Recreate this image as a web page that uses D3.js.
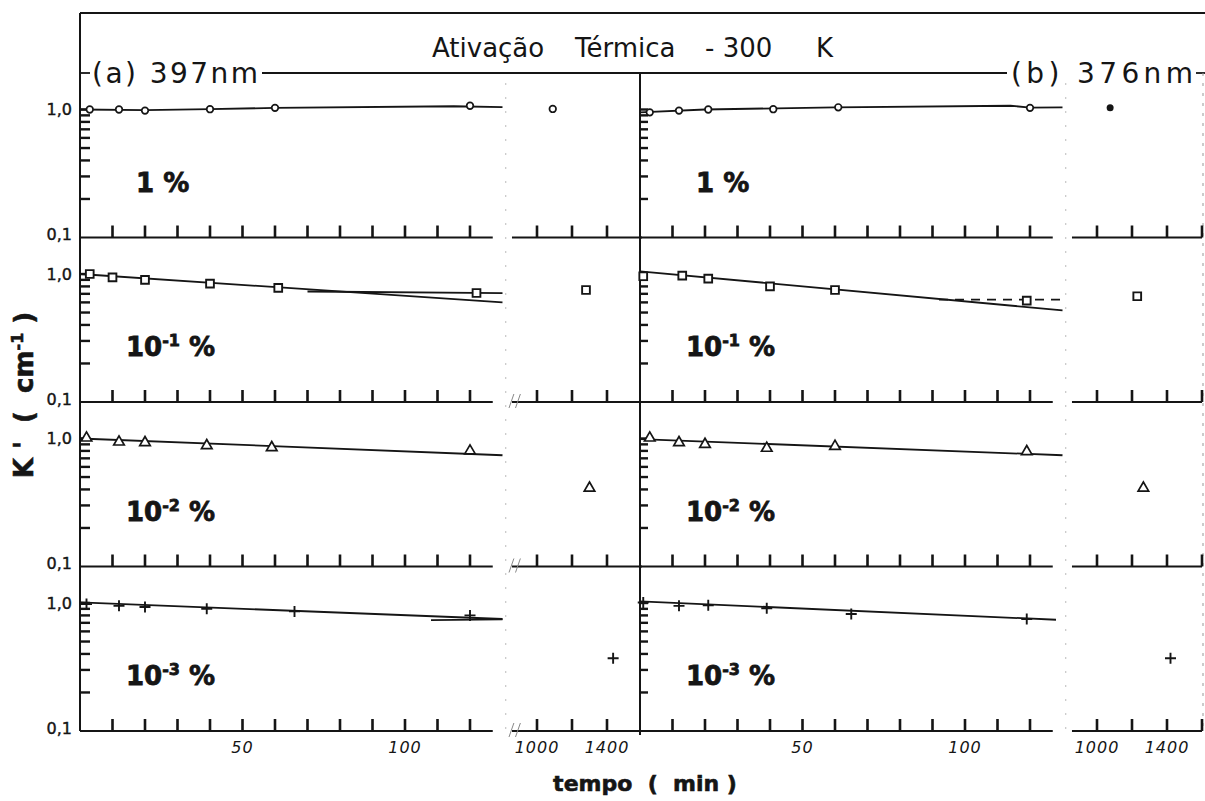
<!DOCTYPE html>
<html>
<head>
<meta charset="utf-8">
<script src="https://cdnjs.cloudflare.com/ajax/libs/d3/7.8.5/d3.min.js"></script>
<style>
body { margin: 0; background: #fff; }
svg { display: block; }
</style>
</head>
<body>
<div class="chart"></div>
<script>
let ink = "#151515";

// ---- data ----
// one entry per row: 1 %, 10^-1 %, 10^-2 %, 10^-3 %
let concBase = ["1", "10", "10", "10"];
let concExp = ["", "-1", "-2", "-3"];
let panelNames = ["(a) 397nm", "(b) 376nm"];

// panel (a) 397 nm
let timeA = [[3, 12, 20, 40, 60, 120], [3, 10, 20, 40, 61, 122], [2, 12, 20, 39, 59, 120], [2, 12, 20, 39, 66, 120]];
let kA = [[1.00, 1.00, 0.98, 1.005, 1.03, 1.07], [1.00, 0.94, 0.90, 0.84, 0.78, 0.71], [1.01, 0.94, 0.93, 0.88, 0.85, 0.80], [0.98, 0.95, 0.93, 0.90, 0.86, 0.80]];
let lateTimeA = [1090, 1280, 1300, 1435];
let lateKA = [1.01, 0.75, 0.41, 0.37];
let fitA = [
  [[0, 1.0], [20, 0.99], [40, 1.005], [60, 1.03], [115, 1.06], [130, 1.045]],
  [[0, 1.0], [130, 0.60]],
  [[0, 1.0], [130, 0.74]],
  [[0, 1.01], [130, 0.75]]
];
let extraA = [null, [[70, 0.73], [130, 0.71]], null, [[108, 0.735], [130, 0.745]]];

// panel (b) 376 nm
let timeB = [[3, 12, 21, 41, 61, 120], [1, 13, 21, 40, 60, 119], [3, 12, 20, 39, 60, 119], [1, 12, 21, 39, 65, 119]];
let kB = [[0.95, 0.98, 1.00, 1.005, 1.04, 1.03], [0.96, 0.97, 0.92, 0.80, 0.75, 0.62], [1.01, 0.93, 0.90, 0.84, 0.87, 0.79], [1.01, 0.95, 0.96, 0.91, 0.82, 0.75]];
let lateTimeB = [1075, 1230, 1265, 1420];
let lateKB = [1.03, 0.67, 0.41, 0.37];
let fitB = [
  [[0, 0.95], [20, 1.0], [60, 1.04], [114, 1.07], [120, 1.035], [130, 1.04]],
  [[0, 1.05], [130, 0.52]],
  [[0, 0.99], [130, 0.74]],
  [[0, 1.03], [128, 0.74]]
];
let extraB = [null, [[92, 0.63], [130, 0.63]], null, null];

// axis ticks
let mainTicks = d3.range(10, 121, 10);
let breakTicks = [1000, 1200, 1400, 1600];
let mainTickLabels = [50, 100];
let breakTickLabels = [1000, 1400];
let kTicks = [0.2, 0.3, 0.4, 0.5, 0.6, 0.7, 0.8, 0.9, 1.0];

// ---- layout ----
let panelX = [80, 640];
let topY = 13, rowTop = 73, rowH = 164.5, decadePx = 128;

let svg = d3.select(".chart").append("svg")
  .attr("width", 1205)
  .attr("height", 801);

let x = d3.scaleLinear().domain([0, 130]).range([0, 422.5]);
let xb = d3.scaleLinear().domain([1000, 1600]).range([457, 562]);

function shape(g, type, px, py) {
  if (type == 0) {
    g.append("circle").attr("cx", px).attr("cy", py).attr("r", 3.3)
      .attr("fill", "#fff").attr("stroke", ink).attr("stroke-width", 1.7);
  } else if (type == 1) {
    g.append("path").attr("transform", `translate(${px},${py})`)
      .attr("d", d3.symbol().type(d3.symbolSquare).size(60)())
      .attr("fill", "#fff").attr("stroke", ink).attr("stroke-width", 1.9);
  } else if (type == 2) {
    g.append("path").attr("transform", `translate(${px},${py})`)
      .attr("d", d3.symbol().type(d3.symbolTriangle).size(48)())
      .attr("fill", "#fff").attr("stroke", ink).attr("stroke-width", 1.7);
  } else {
    g.append("path").attr("d", `M${px - 5.5},${py}H${px + 5.5}M${px},${py - 5.5}V${py + 5.5}`)
      .attr("stroke", ink).attr("stroke-width", 1.9);
  }
}

// top frame and title
svg.append("line").attr("x1", panelX[0]).attr("x2", 1205).attr("y1", topY).attr("y2", topY)
  .attr("stroke", ink).attr("stroke-width", 2);

let title = svg.append("g").attr("font-family", "DejaVu Sans").attr("font-size", 26).attr("fill", ink);
title.append("text").attr("x", 432).attr("y", 57).text("Ativação");
title.append("text").attr("x", 575).attr("y", 57).text("Térmica");
title.append("text").attr("x", 705).attr("y", 57).text("- 300");
title.append("text").attr("x", 816).attr("y", 57).text("K");

// line on top of row 1, broken by the wavelength labels
svg.append("line").attr("x1", 80).attr("x2", 90).attr("y1", rowTop).attr("y2", rowTop).attr("stroke", ink).attr("stroke-width", 1.8);
svg.append("line").attr("x1", 262).attr("x2", 1007).attr("y1", rowTop).attr("y2", rowTop).attr("stroke", ink).attr("stroke-width", 1.8);
svg.append("line").attr("x1", 1196).attr("x2", 1205).attr("y1", rowTop).attr("y2", rowTop).attr("stroke", ink).attr("stroke-width", 1.8);
svg.append("text").attr("x", 92).attr("y", 83).attr("font-family", "DejaVu Sans").attr("font-size", 28)
  .attr("fill", ink).attr("textLength", 166).attr("lengthAdjust", "spacing").text(panelNames[0]);
svg.append("text").attr("x", 1011).attr("y", 83).attr("font-family", "DejaVu Sans").attr("font-size", 28)
  .attr("fill", ink).attr("textLength", 182).attr("lengthAdjust", "spacing").text(panelNames[1]);

// faint right border
svg.append("line").attr("x1", 1203).attr("x2", 1203).attr("y1", rowTop).attr("y2", rowTop + 4 * rowH)
  .attr("stroke", "#999").attr("stroke-width", 1).attr("stroke-dasharray", "3,7");

panelX.forEach(function(px, c) {
  let g = svg.append("g").attr("transform", `translate(${px},0)`);
  let times = c == 0 ? timeA : timeB;
  let ks = c == 0 ? kA : kB;
  let lateT = c == 0 ? lateTimeA : lateTimeB;
  let lateK = c == 0 ? lateKA : lateKB;
  let fits = c == 0 ? fitA : fitB;
  let extras = c == 0 ? extraA : extraB;
  let bottom = rowTop + 4 * rowH;

  // vertical axis
  g.append("line").attr("x1", 0).attr("x2", 0)
    .attr("y1", c == 0 ? topY : rowTop).attr("y2", bottom + (c == 0 ? 0 : 4))
    .attr("stroke", ink).attr("stroke-width", 2);

  // faint break line between main and late-time segments
  g.append("line").attr("x1", x(131)).attr("x2", x(131)).attr("y1", rowTop + 10).attr("y2", bottom + 10)
    .attr("stroke", "#bbb").attr("stroke-width", 1).attr("stroke-dasharray", "2,12");

  for (let r = 0; r < 4; r++) {
    let base = rowTop + (r + 1) * rowH;
    let y = d3.scaleLog().domain([0.1, 1]).range([base, base - decadePx]);

    // baseline segments
    g.append("line").attr("x1", 0).attr("x2", x(127)).attr("y1", base).attr("y2", base)
      .attr("stroke", ink).attr("stroke-width", 2);
    g.append("line").attr("x1", xb(857)).attr("x2", xb(1600)).attr("y1", base).attr("y2", base)
      .attr("stroke", ink).attr("stroke-width", 2);

    // ticks pointing into the panel
    let shownBreakTicks = c == 0 ? breakTicks.slice(0, 3) : breakTicks;
    mainTicks.concat(shownBreakTicks).forEach(function(t) {
      let tx = t < 500 ? x(t) : xb(t);
      g.append("rect").attr("x", tx - 1.3).attr("y", base - 12).attr("width", 2.6).attr("height", 12)
        .attr("fill", ink);
    });
    kTicks.forEach(function(k) {
      g.append("rect").attr("x", 0).attr("y", y(k) - 1.2).attr("width", c == 0 ? 10 : 8).attr("height", 2.4)
        .attr("fill", ink);
    });

    // break marks on panel (a)
    if (c == 0 && r > 0) {
      g.append("path").attr("d", `M${x(132)},${base + 6}L${x(133.5)},${base - 8}M${x(134)},${base + 6}L${x(135.5)},${base - 8}`)
        .attr("stroke", "#888").attr("stroke-width", 1);
    }

    // y labels on the left panel
    if (c == 0) {
      g.append("text").attr("x", -8).attr("y", y(1)).attr("dy", "0.35em").attr("text-anchor", "end")
        .attr("font-family", "DejaVu Sans").attr("font-size", 16).attr("stroke", ink).attr("stroke-width", 0.4)
        .attr("fill", ink).text("1,0");
      g.append("text").attr("x", -8).attr("y", y(0.1) - 3).attr("dy", "0.35em").attr("text-anchor", "end")
        .attr("font-family", "DejaVu Sans").attr("font-size", 16).attr("stroke", ink).attr("stroke-width", 0.4)
        .attr("fill", ink).text("0,1");
    }

    // fitted lines
    let line = d3.line().x(d => x(d[0])).y(d => y(d[1]));
    g.append("path").datum(fits[r]).attr("d", line)
      .attr("fill", "none").attr("stroke", ink).attr("stroke-width", 1.8);
    if (extras[r]) {
      g.append("path").datum(extras[r]).attr("d", line)
        .attr("fill", "none").attr("stroke", ink).attr("stroke-width", 1.8)
        .attr("stroke-dasharray", c == 1 ? "9,7" : null);
    }

    // measured points
    times[r].forEach(function(t, i) {
      shape(g, r, x(t), y(ks[r][i]));
    });
    if (c == 1 && r == 0) {
      g.append("circle").attr("cx", xb(lateT[r])).attr("cy", y(lateK[r])).attr("r", 3.5).attr("fill", ink);
    } else {
      shape(g, r, xb(lateT[r]), y(lateK[r]));
    }

    // concentration label
    let lab = g.append("text").attr("x", r == 0 ? 56 : 46).attr("y", base - 46)
      .attr("font-family", "DejaVu Sans").attr("font-weight", "bold").attr("font-size", 26)
      .attr("stroke", ink).attr("stroke-width", 0.8).attr("fill", ink);
    lab.append("tspan").text(concBase[r]);
    if (concExp[r]) {
      lab.append("tspan").attr("dy", -10).attr("font-size", 16).text(concExp[r]);
      lab.append("tspan").attr("dy", 10).text(" %");
    } else {
      lab.append("tspan").text(" %");
    }

    // tick labels on the bottom row
    if (r == 3) {
      mainTickLabels.forEach(function(v) {
        g.append("text").attr("x", x(v)).attr("y", base + 22).attr("text-anchor", "middle")
          .attr("font-family", "DejaVu Sans").attr("font-style", "italic").attr("font-size", 16)
          .attr("letter-spacing", 1).attr("fill", ink).text(v);
      });
      breakTickLabels.forEach(function(v) {
        g.append("text").attr("x", xb(v)).attr("y", base + 22).attr("text-anchor", "middle")
          .attr("font-family", "DejaVu Sans").attr("font-style", "italic").attr("font-size", 16)
          .attr("letter-spacing", 1).attr("fill", ink).text(v);
      });
    }
  }
});

// axis titles
let yt = svg.append("text").attr("transform", "translate(33,395) rotate(-90)").attr("text-anchor", "middle")
  .attr("font-family", "DejaVu Sans").attr("font-weight", "bold").attr("font-size", 26)
  .attr("stroke", ink).attr("stroke-width", 0.6).attr("fill", ink).attr("xml:space", "preserve");
yt.append("tspan").text("K '  (  cm");
yt.append("tspan").attr("dy", -10).attr("font-size", 16).text("-1");
yt.append("tspan").attr("dy", 10).text(" )");

svg.append("text").attr("x", 645).attr("y", 791).attr("text-anchor", "middle")
  .attr("font-family", "DejaVu Sans").attr("font-weight", "bold").attr("font-size", 22)
  .attr("stroke", ink).attr("stroke-width", 0.6)
  .attr("fill", ink).attr("xml:space", "preserve").text("tempo  (  min )");
</script>
</body>
</html>
